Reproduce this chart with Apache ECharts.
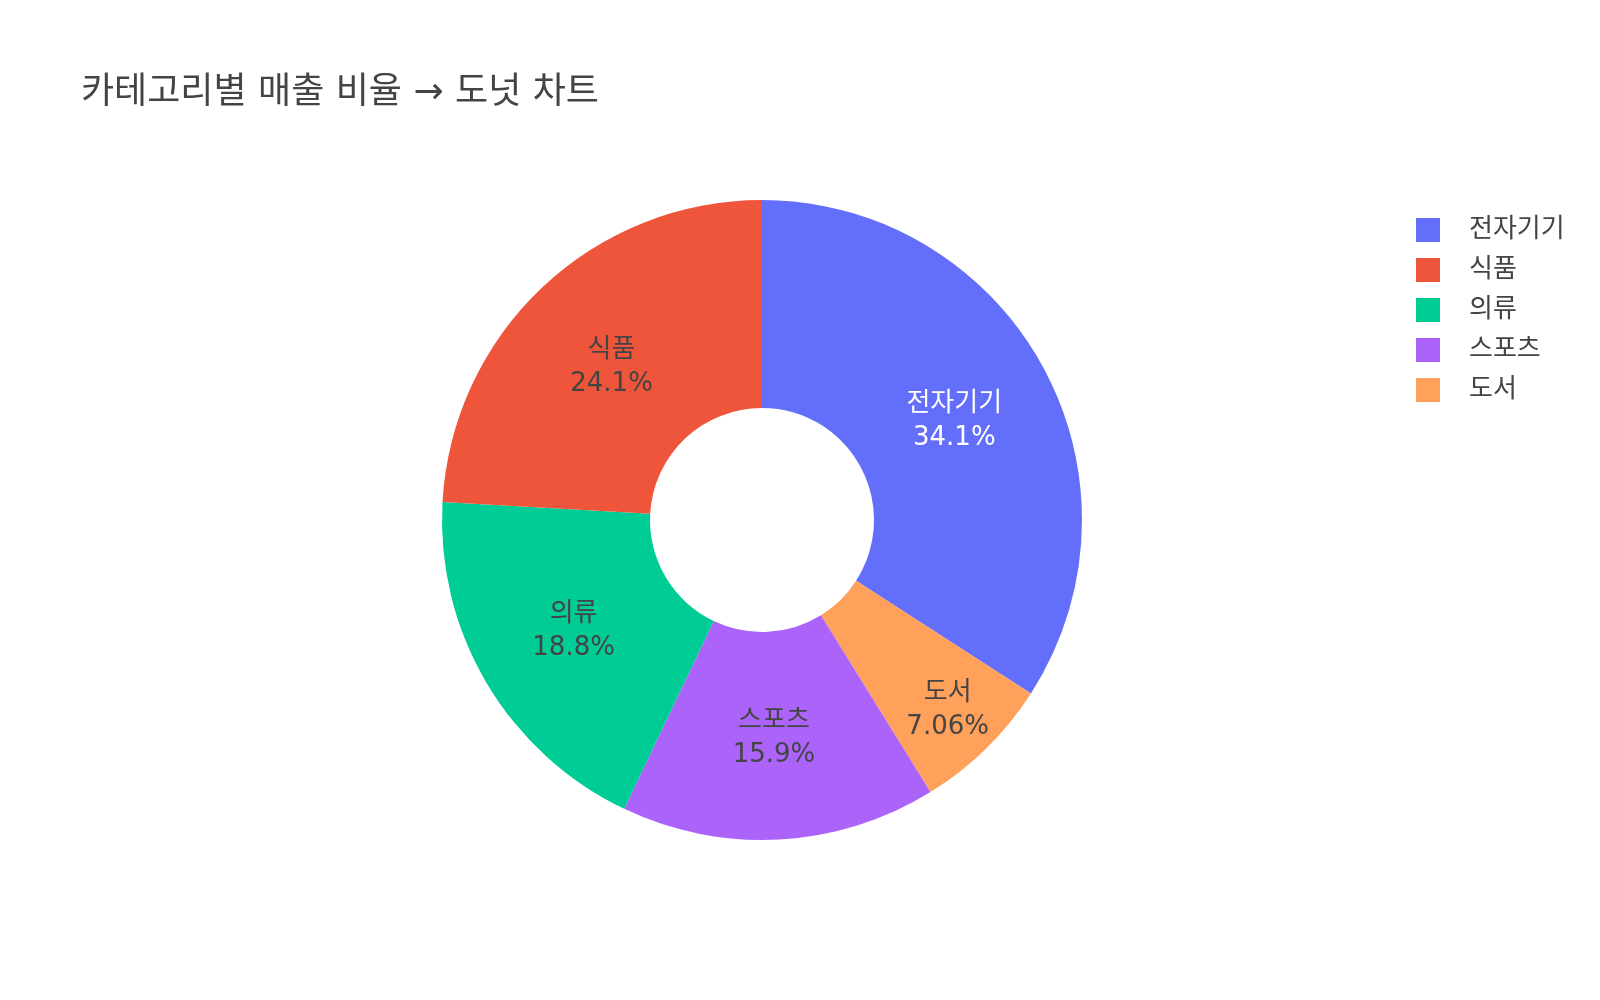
<!DOCTYPE html>
<html>
<head>
<meta charset="utf-8">
<script src="https://cdn.jsdelivr.net/npm/echarts@6/dist/echarts.min.js"></script>
<style>html,body{margin:0;padding:0;background:#fff}#c{width:1600px;height:1000px}</style>
</head>
<body>
<div id="c"></div>
<script>
const titleText = '카테고리별 매출 비율 → 도넛 차트';
const sliceOrder = ['전자기기', '도서', '스포츠', '의류', '식품'];
const sliceValues = [34.1, 7.06, 15.9, 18.8, 24.1];
const legendOrder = ['전자기기', '식품', '의류', '스포츠', '도서'];
const colorMap = {
  '전자기기': '#636efa',
  '식품': '#EF553B',
  '의류': '#00cc96',
  '스포츠': '#ab63fa',
  '도서': '#FFA15A'
};
const lightLabel = ['전자기기'];
const outerLabel = ['도서'];
// small vertical nudge (text style) for labels in the upper half
const labelSpacer = { '전자기기': 'up', '식품': 'up', '도서': 'lo' };

const FONT = '"DejaVu Sans", "Noto Sans CJK KR", sans-serif';
const fmt = p => {
  const sp = labelSpacer[p.name] ? '{' + labelSpacer[p.name] + '| }\n' : '';
  return sp + p.name + '\n' + Number(p.percent).toPrecision(3) + '%';
};

const mainData = sliceOrder.map((n, i) => ({
  name: n,
  value: sliceValues[i],
  itemStyle: { color: colorMap[n] },
  label: {
    show: outerLabel.indexOf(n) < 0,
    color: lightLabel.indexOf(n) >= 0 ? '#ffffff' : '#444444'
  }
}));
const ghostData = sliceOrder.map((n, i) => ({
  name: n,
  value: sliceValues[i],
  itemStyle: { color: 'rgba(0,0,0,0)' },
  label: { show: outerLabel.indexOf(n) >= 0, color: '#444444' }
}));

const labelBase = {
  position: 'inside',
  formatter: fmt,
  fontSize: 26,
  lineHeight: 34,
  fontFamily: FONT,
  align: 'center',
  rich: { up: { fontSize: 1, lineHeight: 12 }, lo: { fontSize: 1, lineHeight: 3 } }
};

const chart = echarts.init(document.getElementById('c'), null, { renderer: 'canvas' });
chart.setOption({
  animation: false,
  backgroundColor: '#ffffff',
  title: {
    text: titleText,
    left: 81,
    top: 73,
    padding: 0,
    textStyle: { fontSize: 36, fontWeight: 'normal', color: '#444444', fontFamily: FONT, lineHeight: 42 }
  },
  legend: {
    orient: 'vertical',
    left: 1416,
    top: 214,
    padding: 0,
    data: legendOrder,
    itemWidth: 24,
    itemHeight: 24,
    itemGap: 8,
    icon: 'rect',
    selectedMode: false,
    textStyle: { fontSize: 26, lineHeight: 24, color: '#444444', fontFamily: FONT, padding: [8, 0, 0, 24] }
  },
  series: [
    {
      type: 'pie',
      center: [762, 520],
      radius: [112, 320],
      clockwise: true,
      startAngle: 90,
      percentPrecision: 4,
      avoidLabelOverlap: false,
      itemStyle: { borderWidth: 0 },
      label: labelBase,
      labelLine: { show: false },
      emphasis: { disabled: true },
      data: mainData
    },
    {
      type: 'pie',
      center: [762, 520],
      radius: [204, 320],
      clockwise: true,
      startAngle: 90,
      percentPrecision: 4,
      silent: true,
      avoidLabelOverlap: false,
      itemStyle: { borderWidth: 0 },
      label: labelBase,
      labelLine: { show: false },
      emphasis: { disabled: true },
      data: ghostData
    }
  ]
});
</script>
</body>
</html>
